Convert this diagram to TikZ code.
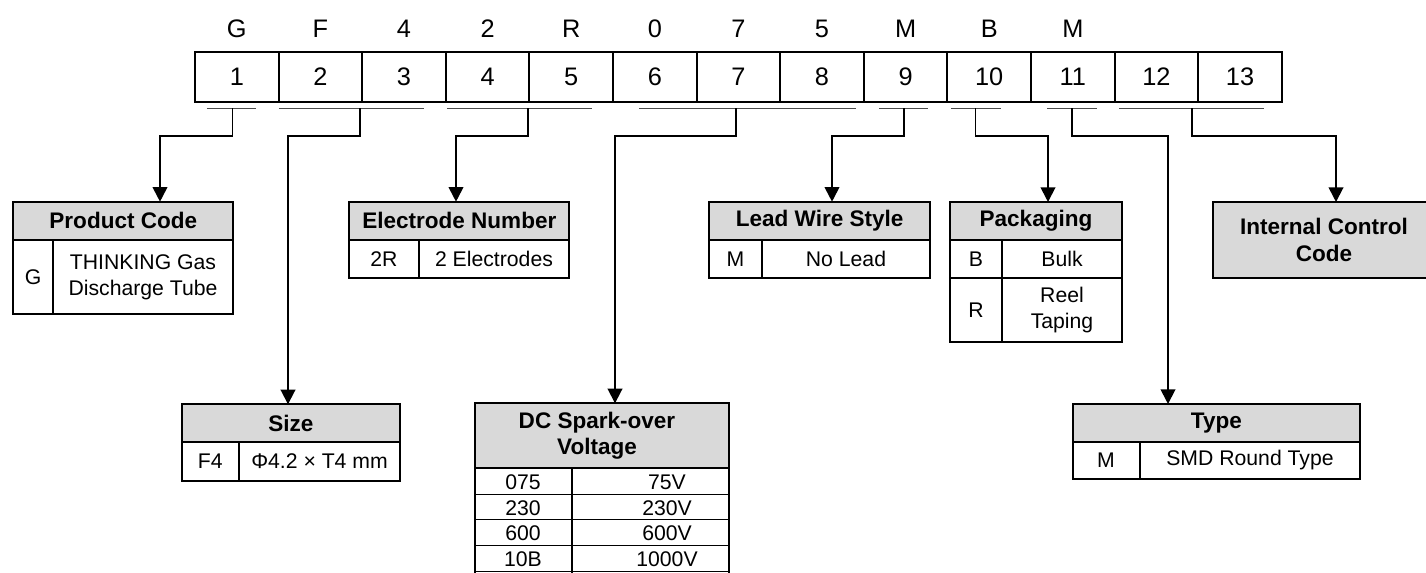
\documentclass[tikz,border=0pt]{standalone}
\usepackage{fontspec}
\setmainfont{Liberation Sans}
\usetikzlibrary{arrows.meta}
\definecolor{hdrgray}{HTML}{D9D9D9}
\begin{document}
\begin{tikzpicture}[x=0.75pt,y=-0.75pt,
  cellbox/.style={draw, line width=1.5pt, minimum width=62.7pt, minimum height=37.5pt, inner sep=0pt, font=\fontsize{19}{22}\selectfont},
  toplbl/.style={inner sep=0pt, font=\fontsize{19}{22}\selectfont},
  uline/.style={line width=1.1pt, black!70},
  conn/.style={line width=1.4pt},
  arr/.style={conn, -{Triangle[length=11pt,width=11pt]}},
  tb/.style={line width=1.5pt},
  hdrbg/.style={tb, fill=hdrgray},
  hdrtxt/.style={inner sep=0pt, align=center, font=\bfseries\fontsize{16.9}{20}\selectfont},
  bodytxt/.style={inner sep=0pt, align=center, font=\fontsize{15.9}{20}\selectfont},
  rowline/.style={line width=0.75pt}
]
\useasboundingbox (0,0) rectangle (1426,573);
\clip (0,0) rectangle (1426,573);

% code cells
\foreach \i in {1,...,13}
  \node[cellbox] (c\i) at ({195+(\i-0.5)*83.6},76.7) {\i};
\foreach \i/\l in {1/G,2/F,3/4,4/2,5/R,6/0,7/7,8/5,9/M,10/B,11/M}
  \node[toplbl] (t\i) at ({195+(\i-0.5)*83.6},29) {\l};

% underlines
\draw[uline] (206.8,108.3) -- (256,108.3);
\draw[uline] (278.9,108.3) -- (423.9,108.3);
\draw[uline] (447,108.3) -- (592.4,108.3);
\draw[uline] (639.3,108.3) -- (856,108.3);
\draw[uline] (879.3,108.3) -- (928.3,108.3);
\draw[uline] (951,108.3) -- (1000.7,108.3);
\draw[uline] (1047.3,108.3) -- (1096.7,108.3);
\draw[uline] (1119.3,108.3) -- (1264.3,108.3);

\coordinate (u1) at (232.5,108.3);
\coordinate (u2) at (360.4,108.3);
\coordinate (u3) at (528.2,108.3);
\coordinate (u4) at (736,108.3);
\coordinate (u5) at (904,108.3);
\coordinate (u6) at (975.5,108.3);
\coordinate (u7) at (1071.7,108.3);
\coordinate (u8) at (1192,108.3);
\coordinate (lvl) at (0,136);

% Product Code
\draw[hdrbg] (13.3,201.7) rectangle (233.3,240);
\draw[tb] (13.3,240) rectangle (233.3,314.3);
\draw[tb] (52.7,240) -- (52.7,314.3);
\node[hdrtxt] (pch) at (123.3,220.9) {Product Code};
\node[bodytxt] (pck) at (33,277.2) {G};
\node[bodytxt] (pcv) at (143,277.2) {THINKING Gas\\Discharge Tube};
\coordinate (pcin) at (160,201.7);

% Electrode Number
\draw[hdrbg] (349.3,201.7) rectangle (569.3,240);
\draw[tb] (349.3,240) rectangle (569.3,277.7);
\draw[tb] (419,240) -- (419,277.7);
\node[hdrtxt] (elh) at (459.3,220.9) {Electrode Number};
\node[bodytxt] (elk) at (384,258.9) {2R};
\node[bodytxt] (elv) at (494,258.9) {2 Electrodes};
\coordinate (elin) at (456,201.7);

% Lead Wire Style
\draw[hdrbg] (709.3,201.7) rectangle (930,240);
\draw[tb] (709.3,240) rectangle (930,277.7);
\draw[tb] (761.7,240) -- (761.7,277.7);
\node[hdrtxt] (lwh) at (819.7,220.9) {Lead Wire Style};
\node[bodytxt] (lwk) at (735.5,258.9) {M};
\node[bodytxt] (lwv) at (846,258.9) {No Lead};
\coordinate (lwin) at (832,201.7);

% Packaging
\draw[hdrbg] (950,202) rectangle (1122,240);
\draw[tb] (950,240) rectangle (1122,341.7);
\draw[tb] (950,278) -- (1122,278);
\draw[tb] (1002,240) -- (1002,341.7);
\node[hdrtxt] (pkh) at (1036,221) {Packaging};
\node[bodytxt] (pk1) at (976,259) {B};
\node[bodytxt] (pv1) at (1062,259) {Bulk};
\node[bodytxt] (pk2) at (976,310) {R};
\node[bodytxt] (pv2) at (1062,310) {Reel\\Taping};
\coordinate (pkin) at (1048,202);

% Internal Control Code
\draw[hdrbg] (1213.3,202) rectangle (1436,277.7);
\node[hdrtxt] (ich) at (1324,240) {Internal Control\\Code};
\coordinate (icin) at (1336,202);

% Size
\draw[hdrbg] (181.7,404.3) rectangle (400,441.7);
\draw[tb] (181.7,441.7) rectangle (400,480.7);
\draw[tb] (239,441.7) -- (239,480.7);
\node[hdrtxt] (szh) at (290.9,423) {Size};
\node[bodytxt] (szk) at (210.3,461.2) {F4};
\node[bodytxt] (szv) at (319.5,461.2) {Φ4.2 × T4 mm};
\coordinate (szin) at (288,404.3);

% DC Spark-over Voltage
\draw[hdrbg] (475,403.3) rectangle (729,468);
\draw[tb] (475,468) rectangle (729,640);
\draw[tb] (571.7,468) -- (571.7,640);
\foreach \y in {494,519.7,545.4,571.1}
  \draw[rowline] (475,\y) -- (729,\y);
\node[hdrtxt] (dch) at (597,435.6) {DC Spark-over\\Voltage};
\node[bodytxt] (dk1) at (523,482) {075};
\node[bodytxt] (dv1) at (667,482) {75V};
\node[bodytxt] (dk2) at (523,507.7) {230};
\node[bodytxt] (dv2) at (667,507.7) {230V};
\node[bodytxt] (dk3) at (523,533.4) {600};
\node[bodytxt] (dv3) at (667,533.4) {600V};
\node[bodytxt] (dk4) at (523,559.1) {10B};
\node[bodytxt] (dv4) at (667,559.1) {1000V};
\coordinate (dcin) at (615,403.3);

% Type
\draw[hdrbg] (1072.7,404) rectangle (1360,441.7);
\draw[tb] (1072.7,441.7) rectangle (1360,479.3);
\draw[tb] (1140,441.7) -- (1140,479.3);
\node[hdrtxt] (tyh) at (1216.4,422.9) {Type};
\node[bodytxt] (tyk) at (1106,460.5) {M};
\node[bodytxt] (tyv) at (1250,460.5) {SMD Round Type};
\coordinate (tyin) at (1168,404);

% connectors
\draw[arr] (u1) -- (u1 |- lvl) -| (pcin);
\draw[arr] (u2) -- (u2 |- lvl) -| (szin);
\draw[arr] (u3) -- (u3 |- lvl) -| (elin);
\draw[arr] (u4) -- (u4 |- lvl) -| (dcin);
\draw[arr] (u5) -- (u5 |- lvl) -| (lwin);
\draw[arr] (u6) -- (u6 |- lvl) -| (pkin);
\draw[arr] (u7) -- (u7 |- lvl) -| (tyin);
\draw[arr] (u8) -- (u8 |- lvl) -| (icin);
\end{tikzpicture}
\end{document}
